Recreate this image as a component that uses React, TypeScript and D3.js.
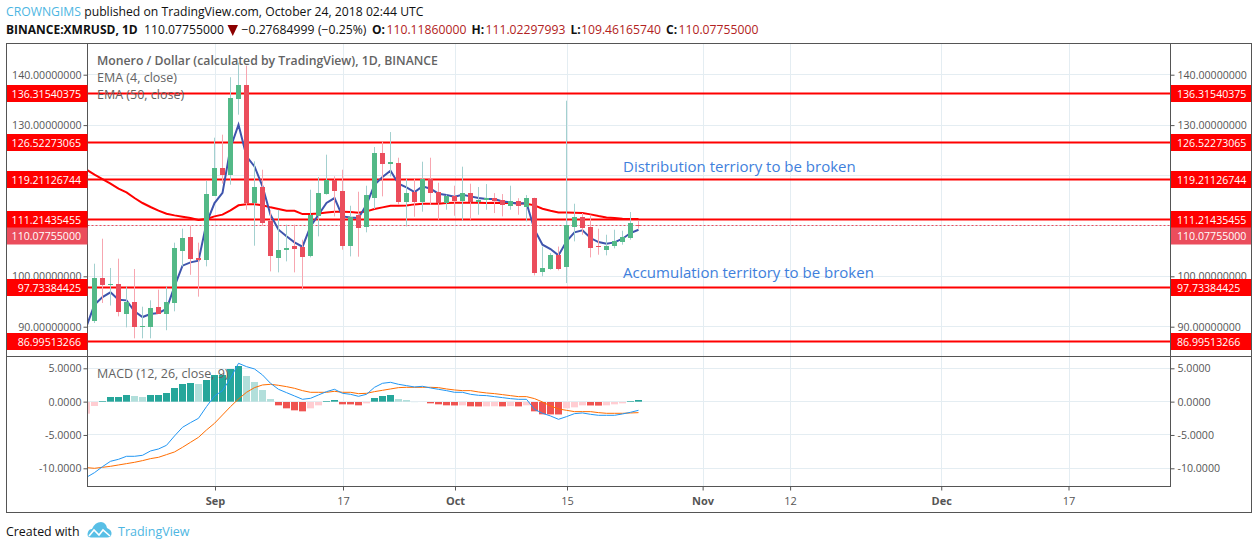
import { useEffect, useRef } from 'react';
import * as d3 from 'd3';

const firstDay = new Date(Date.UTC(2018, 7, 16));

// one entry per day from Aug 17 to Oct 24
const openVals = [91.06, 99.66, 98.2, 98.5, 92.65, 94.97, 90.0, 90.07, 93.97, 92.58, 94.76, 105.08, 107.86, 103.7, 103.3, 116.0, 121.55, 120.16, 135.24, 138.02, 114.54, 117.78, 111.0, 103.7, 105.28, 106.07, 105.87, 104.09, 112.02, 116.39, 119.17, 116.98, 106.07, 112.22, 109.9, 115.6, 124.52, 122.34, 122.54, 114.8, 116.78, 114.8, 119.37, 116.78, 114.6, 115.99, 114.99, 116.59, 114.8, 115.06, 115.5, 115.13, 114.07, 114.93, 113.87, 115.6, 100.91, 101.5, 104.28, 101.77, 109.84, 111.82, 109.84, 105.93, 105.27, 106.07, 106.86, 107.65, 110.1186];
const highVals = [102.5, 107.46, 101.65, 103.5, 98.0, 101.45, 93.97, 95.23, 97.35, 98.0, 106.67, 109.45, 110.04, 106.67, 118.97, 127.5, 128.1, 139.5, 142.4, 141.8, 122.8, 121.15, 113.0, 113.2, 110.24, 110.24, 107.26, 117.18, 119.7, 124.13, 119.83, 121.15, 114.0, 116.78, 117.97, 125.65, 126.7, 128.62, 123.53, 119.37, 119.37, 122.74, 123.53, 118.57, 116.19, 117.97, 121.75, 118.37, 117.71, 118.3, 116.5, 116.32, 117.97, 115.5, 116.12, 115.6, 105.9, 104.6, 105.9, 134.84, 114.4, 112.55, 112.22, 109.44, 108.25, 109.24, 109.04, 112.75, 111.023];
const lowVals = [90.73, 94.7, 94.2, 92.05, 89.87, 87.69, 87.69, 87.69, 92.58, 89.3, 93.05, 101.97, 100.3, 95.96, 101.97, 116.0, 118.4, 118.18, 132.07, 113.2, 106.07, 110.0, 100.98, 100.78, 102.96, 100.78, 97.34, 103.76, 107.92, 116.19, 111.89, 105.28, 103.95, 103.89, 108.72, 113.35, 115.86, 119.8, 114.2, 109.9, 111.82, 112.82, 114.2, 111.23, 113.21, 112.02, 111.03, 111.23, 112.22, 113.2, 112.55, 111.89, 113.21, 112.22, 110.9, 100.18, 100.0, 101.3, 101.17, 98.66, 106.93, 108.25, 103.75, 104.28, 104.15, 105.54, 106.27, 107.26, 109.4617];
const closeVals = [99.66, 98.34, 98.4, 92.85, 94.97, 90.07, 90.2, 93.77, 92.58, 94.97, 105.68, 107.66, 103.5, 103.3, 116.4, 121.55, 120.16, 135.44, 138.02, 114.54, 117.78, 110.64, 104.09, 105.28, 105.67, 105.47, 103.89, 112.22, 116.59, 119.17, 116.98, 106.07, 111.82, 109.64, 116.19, 124.52, 122.34, 122.74, 114.8, 116.59, 114.8, 119.37, 116.59, 114.6, 115.99, 114.99, 116.59, 114.8, 115.2, 115.5, 115.0, 114.07, 115.0, 113.87, 115.6, 100.71, 101.7, 104.28, 101.5, 110.17, 111.82, 109.64, 105.67, 105.73, 106.07, 107.0, 107.85, 110.63, 110.0776];

// these start one day earlier, Aug 16, which is clipped at the plot edge
const ema4Vals = [90.07, 94.37, 95.89, 96.82, 95.36, 95.23, 93.05, 91.92, 92.52, 92.72, 93.51, 98.0, 102.11, 102.77, 103.1, 110.57, 114.54, 116.54, 125.5, 130.08, 123.8, 121.8, 117.85, 112.2, 109.25, 107.93, 106.73, 105.87, 109.9, 112.22, 114.54, 115.53, 111.89, 111.69, 111.56, 114.2, 118.17, 119.7, 120.95, 118.37, 117.64, 116.72, 117.84, 117.38, 116.39, 116.12, 115.79, 116.19, 115.86, 115.53, 115.33, 115.33, 114.86, 114.66, 114.4, 114.53, 109.24, 106.27, 105.4, 104.15, 106.93, 108.71, 109.11, 107.59, 106.8, 106.46, 106.73, 107.46, 108.58, 109.24];
const ema50Vals = [121.15, 120.16, 119.3, 118.38, 117.38, 116.66, 115.53, 114.54, 113.75, 113.02, 112.42, 112.09, 111.83, 111.56, 111.17, 111.37, 111.89, 112.23, 113.09, 114.08, 114.28, 114.28, 114.08, 113.68, 113.35, 113.02, 113.01, 112.35, 112.35, 112.48, 112.68, 112.82, 112.82, 112.75, 112.62, 112.88, 113.34, 113.68, 114.0, 114.0, 114.07, 114.27, 114.4, 114.4, 114.4, 114.54, 114.6, 114.6, 114.6, 114.6, 114.53, 114.6, 114.53, 114.53, 114.47, 114.4, 114.07, 113.41, 113.01, 112.68, 112.68, 112.62, 112.55, 112.29, 111.95, 111.69, 111.56, 111.42, 111.36, 111.36];

const macdVals = [-11.35, -10.65, -9.75, -8.95, -8.65, -8.2, -8.2, -8.05, -7.4, -7.1, -6.55, -5.15, -3.85, -3.15, -2.5, -0.75, 0.85, 1.65, 3.5, 5.75, 5.25, 4.9, 4.0, 2.75, 1.85, 1.35, 0.85, 0.35, 0.5, 1.0, 1.5, 1.85, 1.25, 1.1, 0.8, 1.1, 2.15, 2.75, 2.9, 2.6, 2.4, 2.2, 2.3, 2.05, 1.85, 1.65, 1.4, 1.4, 1.1, 0.95, 0.9, 0.75, 0.6, 0.45, 0.35, 0.35, -1.15, -1.75, -2.15, -2.65, -2.25, -1.8, -1.7, -1.9, -2.05, -2.05, -2.05, -1.85, -1.6, -1.3];
const signalVals = [-9.9, -10, -9.85, -9.7, -9.5, -9.3, -9.1, -8.85, -8.55, -8.35, -7.95, -7.55, -6.85, -6.1, -5.35, -4.25, -3.25, -2.0, -0.75, 0.4, 1.4, 2.1, 2.5, 2.6, 2.45, 2.25, 2.0, 1.65, 1.4, 1.4, 1.4, 1.55, 1.4, 1.4, 1.2, 1.25, 1.5, 1.7, 1.9, 2.1, 2.15, 2.15, 2.15, 2.15, 2.1, 1.9, 1.75, 1.65, 1.65, 1.45, 1.3, 1.2, 1.05, 0.9, 0.75, 0.75, 0.45, -0.05, -0.65, -1.1, -1.3, -1.5, -1.5, -1.5, -1.65, -1.75, -1.75, -1.75, -1.7, -1.65];
const histVals = [-1.75, -0.6, 0.1, 0.7, 0.7, 1.0, 0.85, 0.7, 1.0, 1.0, 1.3, 2.05, 2.65, 2.8, 2.65, 3.25, 4.0, 4.0, 4.9, 5.35, 3.85, 2.95, 1.75, 0.4, -0.5, -0.95, -1.25, -1.4, -0.95, -0.5, 0.1, 0.25, -0.35, -0.36, -0.5, -0.2, 0.55, 0.85, 1.0, 0.4, 0.25, 0.02, 0, -0.2, -0.35, -0.5, -0.52, -0.5, -0.65, -0.67, -0.65, -0.64, -0.66, -0.62, -0.66, -0.5, -1.4, -1.85, -1.86, -1.87, -0.95, -0.8, -0.5, -0.52, -0.54, -0.5, -0.35, -0.2, 0.1, 0.25];

const levelVals = [136.31540375, 126.52273065, 119.21126744, 111.21435455, 97.73384425, 86.99513266];
const lastClose = 110.07755;
const priceGrid = [90, 100, 110, 120, 130, 140];
// 110 and 120 have no label, the level boxes cover them
const priceTicks = [90, 100, 130, 140];
const macdTicks = [-10, -5, 0, 5];
const dateTicks = [
    { date: new Date(Date.UTC(2018, 8, 1)), label: 'Sep', major: true },
    { date: new Date(Date.UTC(2018, 8, 17)), label: '17', major: false },
    { date: new Date(Date.UTC(2018, 9, 1)), label: 'Oct', major: true },
    { date: new Date(Date.UTC(2018, 9, 15)), label: '15', major: false },
    { date: new Date(Date.UTC(2018, 10, 1)), label: 'Nov', major: true },
    { date: new Date(Date.UTC(2018, 10, 12)), label: '12', major: false },
    { date: new Date(Date.UTC(2018, 11, 1)), label: 'Dec', major: true },
    { date: new Date(Date.UTC(2018, 11, 17)), label: '17', major: false },
];

const fontName = '"Open Sans", sans-serif';
const axisColor = '#555';
const gridColor = '#e4edf2';
const upColor = '#53b987';
const downColor = '#eb4d5c';
const upWick = '#a3d0cf';
const downWick = '#f7a6b0';
const ohlcColor = '#b22222';

export default function App() {
    const ref = useRef<SVGSVGElement>(null);

    useEffect(() => {
        const svg = d3.select(ref.current);
        svg.selectAll('*').remove();

        const left = 87.5, right = 1170.5, top = 43.5, split = 356.5, bottom = 486.5, frameRight = 1251.5;

        // future days are a bit narrower than the days with candles
        const x = d3.scaleUtc()
            .domain([new Date(Date.UTC(2018, 7, 17)), new Date(Date.UTC(2018, 9, 24)), new Date(Date.UTC(2018, 11, 17))])
            .range([94.5, 638.5, 1068]);
        const y = d3.scaleLinear().domain([90, 140]).range([326.7, 74.7]);
        const yMacd = d3.scaleLinear().domain([-10, 5]).range([468.3, 368.3]);
        const snap = (v: number) => Math.floor(v) + 0.5;

        const lineDays = macdVals.map((_, i) => d3.utcDay.offset(firstDay, i));
        const candleDays = lineDays.slice(1);

        svg.append('rect').attr('width', 1258).attr('height', 549).attr('fill', '#fff');

        const defs = svg.append('defs');
        defs.append('clipPath').attr('id', 'plot').append('rect')
            .attr('x', left).attr('y', top).attr('width', right - left).attr('height', bottom - top);

        // grid, the vertical lines sit one pixel right of the candle centres
        const grid = svg.append('g').attr('stroke', gridColor).attr('shape-rendering', 'crispEdges');
        dateTicks.forEach(d => {
            grid.append('line').attr('x1', x(d.date) + 1).attr('x2', x(d.date) + 1).attr('y1', top).attr('y2', bottom);
        });
        priceGrid.forEach(t => {
            grid.append('line').attr('x1', left).attr('x2', right).attr('y1', snap(y(t))).attr('y2', snap(y(t)));
        });
        macdTicks.forEach(t => {
            grid.append('line').attr('x1', left).attr('x2', right).attr('y1', snap(yMacd(t))).attr('y2', snap(yMacd(t)));
        });

        // price axes
        const styleAxis = (g: any) => {
            g.select('.domain').remove();
            g.selectAll('line').attr('stroke', axisColor);
            g.selectAll('text').attr('fill', axisColor).attr('font-family', fontName).attr('font-size', 10.6);
        };
        const minusFix = (f: (n: number) => string) => (d: any) => f(d).replace('\u2212', '-');
        svg.append('g').attr('transform', `translate(${left},0)`)
            .call(d3.axisLeft(y).tickValues(priceTicks).tickSize(4).tickPadding(2).tickFormat(minusFix(d3.format('.8f'))) as any)
            .call(styleAxis);
        svg.append('g').attr('transform', `translate(${right},0)`)
            .call(d3.axisRight(y).tickValues(priceTicks).tickSize(4).tickPadding(3).tickFormat(minusFix(d3.format('.8f'))) as any)
            .call(styleAxis);
        svg.append('g').attr('transform', `translate(${left},0)`)
            .call(d3.axisLeft(yMacd).tickValues(macdTicks).tickSize(4).tickPadding(2).tickFormat(minusFix(d3.format('.4f'))) as any)
            .call(styleAxis);
        svg.append('g').attr('transform', `translate(${right},0)`)
            .call(d3.axisRight(yMacd).tickValues(macdTicks).tickSize(4).tickPadding(3).tickFormat(minusFix(d3.format('.4f'))) as any)
            .call(styleAxis);

        // date axis
        const dateAxis = svg.append('g');
        dateTicks.forEach(d => {
            const px = x(d.date) + 1;
            dateAxis.append('line').attr('x1', px).attr('x2', px).attr('y1', bottom).attr('y2', bottom + 4).attr('stroke', axisColor);
            dateAxis.append('text').attr('x', px).attr('y', 505).attr('text-anchor', 'middle')
                .attr('font-family', fontName).attr('font-size', 11).attr('fill', axisColor)
                .attr('font-weight', d.major ? 700 : 400).text(d.label);
        });

        const chart = svg.append('g').attr('clip-path', 'url(#plot)');

        // macd histogram, colour depends on the direction against the previous bar
        const histColor = (v: number, i: number) => {
            const prev = i > 0 ? histVals[i - 1] : v;
            if (v >= 0) return i > 0 && v >= prev ? '#26a69a' : '#b2dfdb';
            return v < prev ? '#ef5350' : '#ffcdd2';
        };
        chart.append('g').selectAll('rect').data(histVals).join('rect')
            .attr('x', (_, i) => x(lineDays[i]) - 3.5)
            .attr('width', 7)
            .attr('y', d => Math.round(Math.min(yMacd(d), yMacd(0))))
            .attr('height', d => Math.abs(yMacd(d) - yMacd(0)))
            .attr('fill', (d, i) => histColor(d, i));

        const macdLine = d3.line<number>().x((_, i) => x(lineDays[i])).y(d => yMacd(d));
        chart.append('path').attr('d', macdLine(signalVals)).attr('fill', 'none').attr('stroke', '#ff6d00').attr('stroke-width', 1);
        chart.append('path').attr('d', macdLine(macdVals)).attr('fill', 'none').attr('stroke', '#2196f3').attr('stroke-width', 1);

        // support and resistance levels, a 2px stroke on a half pixel gives the soft edges
        chart.append('g').selectAll('line').data(levelVals).join('line')
            .attr('x1', left).attr('x2', right).attr('y1', d => snap(y(d))).attr('y2', d => snap(y(d)))
            .attr('stroke', '#ff0000').attr('stroke-width', 2);

        chart.append('line')
            .attr('x1', left).attr('x2', right).attr('y1', snap(y(lastClose))).attr('y2', snap(y(lastClose)))
            .attr('stroke', downColor).attr('stroke-dasharray', '2,2');

        const priceLine = d3.line<number>().x((_, i) => x(lineDays[i])).y(d => y(d));
        chart.append('path').attr('d', priceLine(ema50Vals)).attr('fill', 'none').attr('stroke', '#ff0000').attr('stroke-width', 2);
        chart.append('path').attr('d', priceLine(ema4Vals)).attr('fill', 'none').attr('stroke', '#3f55ad').attr('stroke-width', 2);

        // candles
        const candles = chart.append('g').selectAll('g').data(candleDays).join('g');
        candles.append('line')
            .attr('x1', d => x(d)).attr('x2', d => x(d))
            .attr('y1', (_, i) => y(highVals[i])).attr('y2', (_, i) => y(lowVals[i]))
            .attr('stroke', (_, i) => closeVals[i] >= openVals[i] ? upWick : downWick);
        candles.append('rect')
            .attr('x', d => x(d) - 2.5)
            .attr('width', 5)
            .attr('y', (_, i) => Math.round(y(Math.max(openVals[i], closeVals[i]))))
            .attr('height', (_, i) => Math.max(1, Math.round(Math.abs(y(openVals[i]) - y(closeVals[i])))))
            .attr('fill', (_, i) => closeVals[i] >= openVals[i] ? upColor : downColor);

        // pane frames
        const frame = svg.append('g').attr('fill', 'none').attr('stroke', axisColor).attr('shape-rendering', 'crispEdges');
        frame.append('rect').attr('x', 6.5).attr('y', top).attr('width', frameRight - 6.5).attr('height', 512.5 - top);
        frame.append('line').attr('x1', left).attr('x2', left).attr('y1', top).attr('y2', bottom);
        frame.append('line').attr('x1', right).attr('x2', right).attr('y1', top).attr('y2', bottom);
        frame.append('line').attr('x1', 6.5).attr('x2', frameRight).attr('y1', split).attr('y2', split);
        frame.append('line').attr('x1', left).attr('x2', right).attr('y1', bottom).attr('y2', bottom);

        // level labels on both price axes
        const fmtPrice = d3.format('.8f');
        const boxes = [
            ...levelVals.map(v => ({ value: v, cy: Math.floor(y(v)) + 0.5, color: '#ff0000' })),
            // the last price label is pushed below the 111.21 one
            { value: lastClose, cy: Math.floor(y(111.21435455)) + 17, color: downColor },
        ];
        [{ bx: 7, bw: 80.5, tx: 81, anchor: 'end' }, { bx: 1171, bw: 80, tx: 1177, anchor: 'start' }].forEach(s => {
            boxes.forEach(b => {
                svg.append('rect').attr('x', s.bx).attr('y', b.cy - 8.5).attr('width', s.bw).attr('height', 17).attr('fill', b.color);
                svg.append('text').attr('x', s.tx).attr('y', b.cy + 4).attr('text-anchor', s.anchor)
                    .attr('font-family', fontName).attr('font-size', 10.6).attr('fill', '#fff').text(fmtPrice(b.value));
            });
        });

        // pane legends
        const legend = svg.append('g').attr('font-family', fontName).attr('fill', '#636363').attr('font-size', 12.5);
        legend.append('text').attr('x', 97).attr('y', 65).attr('font-size', 12.25).attr('font-weight', 600).text('Monero / Dollar (calculated by TradingView), 1D, BINANCE');
        legend.append('text').attr('x', 97).attr('y', 82).text('EMA (4, close)');
        legend.append('text').attr('x', 97).attr('y', 99).text('EMA (50, close)');
        legend.append('text').attr('x', 97).attr('y', 378).text('MACD (12, 26, close, 9)');

        // annotations
        const notes = svg.append('g').attr('font-family', fontName).attr('fill', '#3f7fdc').attr('font-size', 15);
        notes.append('text').attr('x', 623).attr('y', 172).text('Distribution terriory to be broken');
        notes.append('text').attr('x', 623).attr('y', 278).text('Accumulation territory to be broken');

        // header
        const header = svg.append('g').attr('font-family', fontName).attr('font-size', 12.2).attr('fill', '#111');
        const line1 = header.append('text').attr('x', 6).attr('y', 16);
        line1.append('tspan').attr('fill', '#4db6e2').text('CROWNGIMS');
        line1.append('tspan').text(' published on TradingView.com, October 24, 2018 02:44 UTC');
        const line2 = [
            { px: 6, txt: 'BINANCE:XMRUSD, 1D', bold: true, color: '#111' },
            { px: 144, txt: '110.07755000', bold: false, color: '#111' },
            { px: 241.5, txt: '\u22120.27684999', bold: false, color: '#111' },
            { px: 318, txt: '(\u22120.25%)', bold: false, color: '#111' },
            { px: 372, txt: 'O:', bold: true, color: '#111' },
            { px: 386.5, txt: '110.11860000', bold: false, color: ohlcColor },
            { px: 471.5, txt: 'H:', bold: true, color: '#111' },
            { px: 485.5, txt: '111.02297993', bold: false, color: ohlcColor },
            { px: 570.5, txt: 'L:', bold: true, color: '#111' },
            { px: 581, txt: '109.46165740', bold: false, color: ohlcColor },
            { px: 666, txt: 'C:', bold: true, color: '#111' },
            { px: 678.5, txt: '110.07755000', bold: false, color: ohlcColor },
        ];
        line2.forEach(t => {
            header.append('text').attr('x', t.px).attr('y', 34).attr('fill', t.color)
                .attr('font-size', t.bold ? 12 : 12.2)
                .attr('font-weight', t.bold ? 700 : 400).text(t.txt);
        });
        header.append('polygon').attr('points', '227.5,25 238,25 232.75,36').attr('fill', '#8b0000');

        // footer
        svg.append('text').attr('x', 6).attr('y', 536).attr('font-family', fontName).attr('font-size', 12.4).attr('fill', '#111').text('Created with');
        svg.append('path')
            .attr('d', 'M91 537.5 Q86 537 88 532 Q89 529 92 529 Q95 522 101 522 Q106 522.5 107 528 Q112 530 111.5 534 Q111 537.5 107 537.5 Z')
            .attr('fill', '#58bfe6');
        svg.append('polyline').attr('points', '89,536 94,530 99,535 103,530 110,536')
            .attr('fill', 'none').attr('stroke', '#fff').attr('stroke-width', 1.6);
        svg.append('text').attr('x', 118).attr('y', 536).attr('font-family', fontName).attr('font-size', 12.5).attr('fill', '#4db6e2').text('TradingView');
    }, []);

    return <svg ref={ref} width={1258} height={549} style={{ position: 'absolute', left: 0, top: 0 }}></svg>;
}
